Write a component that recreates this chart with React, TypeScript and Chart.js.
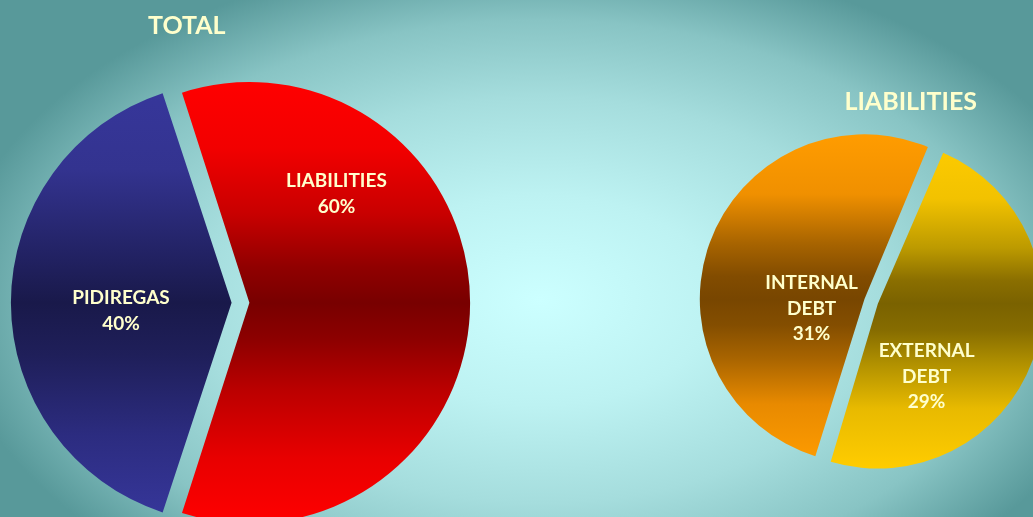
import React, { useEffect, useRef } from "react";
import { Chart, registerables } from "chart.js";

Chart.register(...registerables);

// ---- data ----
const totalTitle = "TOTAL";
const totalCategories = ["LIABILITIES", "PIDIREGAS"];
const totalValues = [60, 40];

const liabTitle = "LIABILITIES";
const liabCategories = ["INTERNAL DEBT", "EXTERNAL DEBT"];
const liabValues = [31, 29];

// ---- styles ----
const TEXT_COLOR = "#FFFFCC";
const FONT = "Lato, 'Open Sans', sans-serif";

const redStops: [number, string][] = [
  [0, "#ff0000"], [0.15, "#f20000"], [0.3, "#c80000"], [0.42, "#900000"], [0.5, "#780000"],
  [0.58, "#8c0000"], [0.7, "#bc0000"], [0.85, "#e80000"], [1, "#ff0000"],
];
const blueStops: [number, string][] = [
  [0, "#37379c"], [0.2, "#33338f"], [0.38, "#232366"], [0.5, "#19194a"],
  [0.62, "#1f1f5a"], [0.8, "#2c2c80"], [1, "#37379c"],
];
const orangeStops: [number, string][] = [
  [0, "#ff9c00"], [0.18, "#f09000"], [0.33, "#a86400"], [0.43, "#824c00"], [0.5, "#784600"],
  [0.58, "#844e00"], [0.68, "#a86400"], [0.82, "#e88a00"], [1, "#ff9c00"],
];
const yellowStops: [number, string][] = [
  [0, "#ffcc00"], [0.18, "#f2c200"], [0.33, "#bc9a00"], [0.43, "#8a6e00"], [0.5, "#7a6200"],
  [0.58, "#866c00"], [0.68, "#b09000"], [0.82, "#e8ba00"], [1, "#ffcc00"],
];

// label placement: fraction along the slice's angle span, fraction of radius
const totalLabelPlacement = [
  { f: 0.2687, k: 0.6654 },
  { f: 0.478, k: 0.5726 },
];
const liabLabelPlacement = [
  { f: 0.359, k: 0.377 },
  { f: 0.69, k: 0.588 },
];

function vGrad(stopsList: [number, string][][], radius: number, extra: number) {
  return (c: any) => {
    const stops = stopsList[c.dataIndex % stopsList.length];
    const chart = c.chart;
    const area = chart.chartArea;
    if (!area) return stops[0][1];
    const r = radius + extra;
    const cy = (area.top + area.bottom) / 2;
    const g = chart.ctx.createLinearGradient(0, cy - r, 0, cy + r);
    stops.forEach(([o, col]) => g.addColorStop(o, col));
    return g;
  };
}

function labelLines(category: string, value: number) {
  return [...category.split(" "), `${value}%`];
}

const sliceLabelPlugin = {
  id: "sliceLabels",
  afterDatasetsDraw(chart: any, _args: any, opts: any) {
    const { ctx } = chart;
    const meta = chart.getDatasetMeta(0);
    const cats: string[] = chart.data.labels;
    const vals: number[] = chart.data.datasets[0].data;
    meta.data.forEach((arc: any, i: number) => {
      const p = opts.placement[i];
      const { x, y, startAngle, endAngle, outerRadius } = arc.getProps(
        ["x", "y", "startAngle", "endAngle", "outerRadius"],
        true
      );
      const a = startAngle + (endAngle - startAngle) * p.f;
      const r = outerRadius * p.k;
      const cx = x + Math.cos(a) * r;
      const cy = y + Math.sin(a) * r;
      const lines = labelLines(cats[i], vals[i]);
      ctx.save();
      ctx.font = `bold ${opts.size}px ${FONT}`;
      ctx.fillStyle = TEXT_COLOR;
      ctx.textAlign = "center";
      ctx.textBaseline = "middle";
      lines.forEach((ln, j) => {
        ctx.fillText(ln, cx, cy + (j - (lines.length - 1) / 2) * opts.lineHeight + 1);
      });
      ctx.restore();
    });
  },
};

function makeConfig(opts: {
  title: string;
  align: "start" | "end";
  categories: string[];
  values: number[];
  stops: [number, string][][];
  offsets: number[];
  radius: number;
  rotation: number;
  padding: { left: number; right: number; top: number; bottom: number };
  titlePadTop: number;
  placement: { f: number; k: number }[];
  lineHeight: number;
}): any {
  return {
    type: "pie",
    data: {
      labels: opts.categories,
      datasets: [
        {
          data: opts.values,
          backgroundColor: vGrad(opts.stops, opts.radius, 6),
          borderWidth: 0,
          offset: opts.offsets,
          hoverOffset: 0,
          radius: opts.radius,
        },
      ],
    },
    options: {
      responsive: false,
      animation: false,
      events: [],
      rotation: opts.rotation,
      layout: { padding: opts.padding },
      plugins: {
        legend: { display: false },
        tooltip: { enabled: false },
        title: {
          display: true,
          text: opts.title,
          align: opts.align,
          color: TEXT_COLOR,
          font: { family: FONT, size: 25, weight: "bold", lineHeight: 1.2 },
          padding: { top: opts.titlePadTop, bottom: 0 },
        },
        sliceLabels: { placement: opts.placement, size: 19, lineHeight: opts.lineHeight },
      },
    },
    plugins: [sliceLabelPlugin],
  };
}

export default function App() {
  const leftRef = useRef<HTMLCanvasElement>(null);
  const rightRef = useRef<HTMLCanvasElement>(null);

  useEffect(() => {
    const c1 = new Chart(
      leftRef.current as HTMLCanvasElement,
      makeConfig({
        title: totalTitle,
        align: "start",
        categories: totalCategories,
        values: totalValues,
        stops: [redStops, blueStops],
        offsets: [20.8, 50.4],
        radius: 215.5,
        rotation: -18,
        padding: { left: 148, right: 159.6, top: 0, bottom: 35.4 },
        titlePadTop: 11,
        placement: totalLabelPlacement,
        lineHeight: 26,
      })
    );
    const c2 = new Chart(
      rightRef.current as HTMLCanvasElement,
      makeConfig({
        title: liabTitle,
        align: "end",
        categories: liabCategories,
        values: liabValues,
        stops: [orangeStops, yellowStops],
        offsets: [26.8, 30.0],
        radius: 158,
        rotation: 197,
        padding: { left: 84.6, right: 103, top: 0, bottom: 34.4 },
        titlePadTop: 87,
        placement: liabLabelPlacement,
        lineHeight: 25.5,
      })
    );
    return () => {
      c1.destroy();
      c2.destroy();
    };
  }, []);

  return (
    <div
      style={{
        position: "fixed",
        left: 0,
        top: 0,
        width: 1033,
        height: 517,
        overflow: "hidden",
        background:
          "radial-gradient(ellipse 590px 350px at 540px 300px, #ccffff 0%, #bdf2f2 30%, #a5dddd 58%, #88c4c4 80%, #58999a 100%)",
      }}
    >
      <canvas ref={leftRef} width={500} height={600} style={{ position: "absolute", left: 0, top: 0 }} />
      <canvas ref={rightRef} width={400} height={520} style={{ position: "absolute", left: 680, top: 0 }} />
    </div>
  );
}
